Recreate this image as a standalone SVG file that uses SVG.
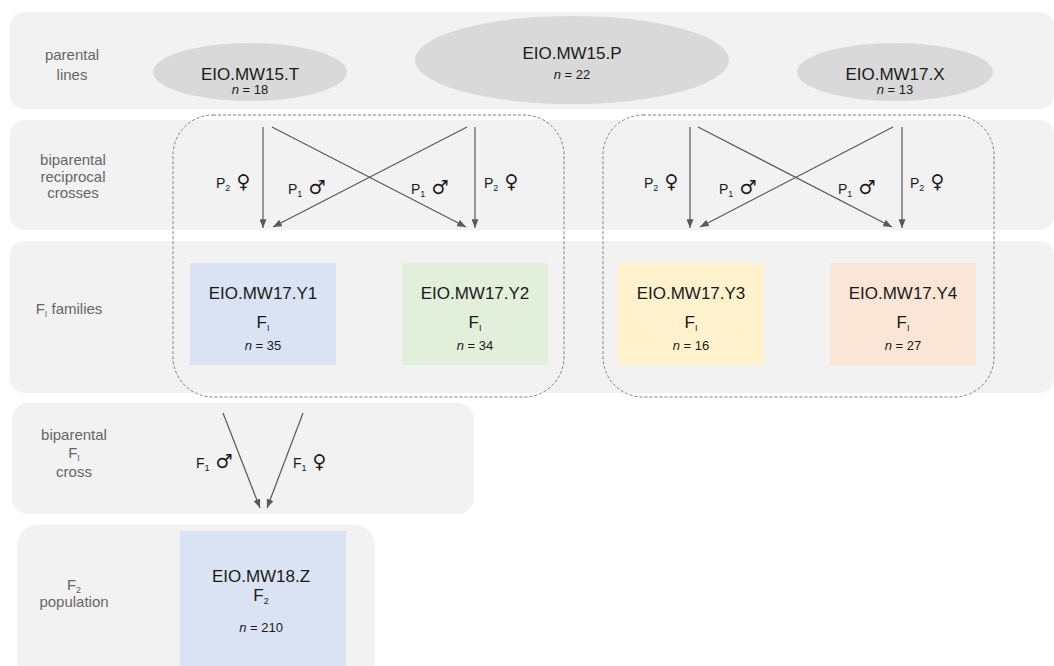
<svg xmlns="http://www.w3.org/2000/svg" width="1054" height="666" viewBox="0 0 1054 666">
  <defs>
    <marker id="arrow" viewBox="0 0 10 8" refX="10" refY="4" markerWidth="9" markerHeight="7" markerUnits="userSpaceOnUse" orient="auto">
      <path d="M0,0 L10,4 L0,8 z" fill="#595959"/>
    </marker>
    <style>
      .band { fill: #f2f2f2; }
      .lineage { fill: #d9d9d9; }
      .group { fill: none; stroke: #808080; stroke-width: 1; stroke-dasharray: 3 2; }
      .edge { stroke: #595959; stroke-width: 1.2; fill: none; marker-end: url(#arrow); }
      text { font-family: "Liberation Sans", Arial, sans-serif; }
      .row { font-size: 15px; fill: #666666; text-anchor: middle; }
      .name { font-size: 17px; fill: #1a1a1a; text-anchor: middle; }
      .count { font-size: 13px; fill: #1a1a1a; text-anchor: middle; }
      .lbl { font-size: 14px; fill: #1a1a1a; }
      .sex { font-family: "DejaVu Sans", sans-serif; font-size: 19px; }
      .sub { font-size: 9px; }
    </style>
  </defs>

  <!-- row bands -->
  <g id="bands">
    <rect class="band" x="10" y="12" width="1044" height="97" rx="14"/>
    <rect class="band" x="10" y="120" width="1044" height="110" rx="14"/>
    <rect class="band" x="10" y="241" width="1044" height="152" rx="14"/>
    <rect class="band" x="12" y="403" width="462" height="111" rx="16"/>
    <rect class="band" x="17" y="525" width="358" height="160" rx="20"/>
  </g>

  <!-- row labels -->
  <g id="row-labels">
    <text class="row" x="72" y="60">parental</text>
    <text class="row" x="72" y="80">lines</text>
    <text class="row" x="73" y="165">biparental</text>
    <text class="row" x="73" y="182">reciprocal</text>
    <text class="row" x="73" y="198">crosses</text>
    <text class="row" x="69" y="314">F<tspan class="sub" dy="3">I</tspan><tspan dy="-3"> families</tspan></text>
    <text class="row" x="74" y="440">biparental</text>
    <text class="row" x="74" y="458">F<tspan class="sub" dy="3">I</tspan></text>
    <text class="row" x="74" y="477">cross</text>
    <text class="row" x="74" y="590">F<tspan class="sub" dy="3">2</tspan></text>
    <text class="row" x="74" y="607">population</text>
  </g>

  <!-- dashed groupings of reciprocal crosses -->
  <g id="cross-groups">
    <rect class="group" x="173" y="115" width="391" height="282" rx="40"/>
    <rect class="group" x="603" y="115" width="391" height="282" rx="40"/>
  </g>

  <!-- parental lines -->
  <g id="EIO.MW15.T">
    <ellipse class="lineage" cx="250" cy="72" rx="97" ry="29"/>
    <text class="name" x="250" y="80">EIO.MW15.T</text>
    <text class="count" x="250" y="94"><tspan font-style="italic">n</tspan> = 18</text>
  </g>
  <g id="EIO.MW15.P">
    <ellipse class="lineage" cx="572" cy="60" rx="157" ry="44"/>
    <text class="name" x="572" y="59">EIO.MW15.P</text>
    <text class="count" x="572" y="79"><tspan font-style="italic">n</tspan> = 22</text>
  </g>
  <g id="EIO.MW17.X">
    <ellipse class="lineage" cx="895" cy="72" rx="98" ry="29"/>
    <text class="name" x="895" y="80">EIO.MW17.X</text>
    <text class="count" x="895" y="94"><tspan font-style="italic">n</tspan> = 13</text>
  </g>

  <!-- F1 families -->
  <g id="EIO.MW17.Y1">
    <rect x="190" y="263" width="146" height="102" fill="#dae3f3"/>
    <text class="name" x="263" y="299">EIO.MW17.Y1</text>
    <text class="name" x="263" y="328">F<tspan class="sub" dy="3">I</tspan></text>
    <text class="count" x="263" y="350"><tspan font-style="italic">n</tspan> = 35</text>
  </g>
  <g id="EIO.MW17.Y2">
    <rect x="402" y="263" width="146" height="102" fill="#e2efda"/>
    <text class="name" x="475" y="299">EIO.MW17.Y2</text>
    <text class="name" x="475" y="328">F<tspan class="sub" dy="3">I</tspan></text>
    <text class="count" x="475" y="350"><tspan font-style="italic">n</tspan> = 34</text>
  </g>
  <g id="EIO.MW17.Y3">
    <rect x="618" y="263" width="146" height="102" fill="#fff2cc"/>
    <text class="name" x="691" y="299">EIO.MW17.Y3</text>
    <text class="name" x="691" y="328">F<tspan class="sub" dy="3">I</tspan></text>
    <text class="count" x="691" y="350"><tspan font-style="italic">n</tspan> = 16</text>
  </g>
  <g id="EIO.MW17.Y4">
    <rect x="830" y="263" width="146" height="102" fill="#fbe5d6"/>
    <text class="name" x="903" y="299">EIO.MW17.Y4</text>
    <text class="name" x="903" y="328">F<tspan class="sub" dy="3">I</tspan></text>
    <text class="count" x="903" y="350"><tspan font-style="italic">n</tspan> = 27</text>
  </g>

  <!-- F2 population -->
  <g id="EIO.MW18.Z">
    <rect x="180" y="531" width="166" height="140" fill="#dae3f3"/>
    <text class="name" x="261" y="582">EIO.MW18.Z</text>
    <text class="name" x="261" y="601">F<tspan class="sub" dy="3" font-size="11">2</tspan></text>
    <text class="count" x="261" y="632"><tspan font-style="italic">n</tspan> = 210</text>
  </g>

  <!-- crossing connectors -->
  <g id="connectors">
    <line class="edge" x1="263" y1="127" x2="263" y2="228"/>
    <line class="edge" x1="467" y1="127" x2="273" y2="227"/>
    <line class="edge" x1="272" y1="127" x2="466" y2="227"/>
    <line class="edge" x1="475" y1="127" x2="475" y2="228"/>

    <line class="edge" x1="690" y1="127" x2="690" y2="228"/>
    <line class="edge" x1="893" y1="127" x2="700" y2="227"/>
    <line class="edge" x1="698" y1="127" x2="892" y2="227"/>
    <line class="edge" x1="902" y1="127" x2="902" y2="228"/>

    <line class="edge" x1="223" y1="413" x2="260" y2="508"/>
    <line class="edge" x1="303" y1="413" x2="267" y2="508"/>
  </g>

  <!-- connector labels -->
  <g id="connector-labels">
    <text class="lbl" x="216" y="188">P<tspan class="sub" dy="3">2</tspan><tspan class="sex" dy="-3"> ♀</tspan></text>
    <text class="lbl" x="288" y="194">P<tspan class="sub" dy="3">1</tspan><tspan class="sex" dy="-3"> ♂</tspan></text>
    <text class="lbl" x="411" y="194">P<tspan class="sub" dy="3">1</tspan><tspan class="sex" dy="-3"> ♂</tspan></text>
    <text class="lbl" x="484" y="188">P<tspan class="sub" dy="3">2</tspan><tspan class="sex" dy="-3"> ♀</tspan></text>

    <text class="lbl" x="644" y="188">P<tspan class="sub" dy="3">2</tspan><tspan class="sex" dy="-3"> ♀</tspan></text>
    <text class="lbl" x="719" y="194">P<tspan class="sub" dy="3">1</tspan><tspan class="sex" dy="-3"> ♂</tspan></text>
    <text class="lbl" x="838" y="194">P<tspan class="sub" dy="3">1</tspan><tspan class="sex" dy="-3"> ♂</tspan></text>
    <text class="lbl" x="910" y="188">P<tspan class="sub" dy="3">2</tspan><tspan class="sex" dy="-3"> ♀</tspan></text>

    <text class="lbl" x="196" y="468">F<tspan class="sub" dy="3">1</tspan><tspan class="sex" dy="-3"> ♂</tspan></text>
    <text class="lbl" x="293" y="468">F<tspan class="sub" dy="3">1</tspan><tspan class="sex" dy="-3"> ♀</tspan></text>
  </g>
</svg>
